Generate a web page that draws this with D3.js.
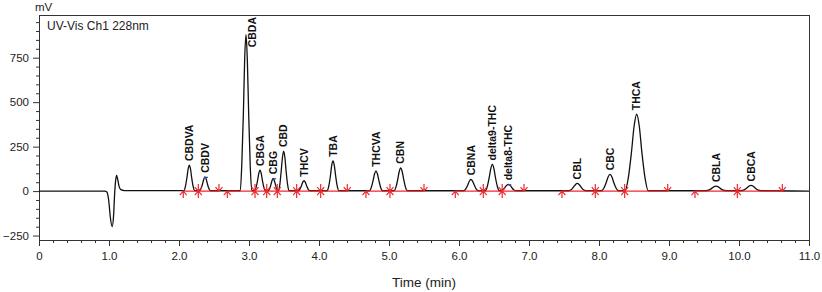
<!DOCTYPE html>
<html>
<meta charset="utf-8">
<style>
  body { margin: 0; background: #fff; }
  svg { display: block; font-family: "Liberation Sans", Arial, sans-serif; }
</style>

<body>
  <svg></svg>
</body>

<script src="https://d3js.org/d3.v7.min.js"></script>

<script>

  var margin = { top: 15, right: 13, bottom: 52, left: 39 };
  var width = 822 - margin.left - margin.right;
  var height = 292 - margin.top - margin.bottom;

  // chromatogram trace (time in min, signal in mV)
  var traceTime = [
    0.00, 0.94, 0.97, 0.995, 1.02, 1.045, 1.065, 1.08, 1.095, 1.108, 1.125, 1.145, 1.17, 1.22, 2.00,
    2.070, 2.091, 2.112, 2.130, 2.147, 2.165, 2.182, 2.203, 2.224,
    2.294, 2.315, 2.336, 2.354, 2.371, 2.389, 2.406, 2.427, 2.448,
    2.875, 2.897, 2.920, 2.938, 2.957, 2.976, 2.995, 3.017, 3.040,
    3.080, 3.101, 3.122, 3.140, 3.157, 3.175, 3.192, 3.213, 3.234,
    3.274, 3.293, 3.313, 3.329, 3.345, 3.361, 3.378, 3.397, 3.416,
    3.422, 3.441, 3.460, 3.478, 3.495, 3.513, 3.530, 3.551, 3.572,
    3.704, 3.726, 3.748, 3.767, 3.786, 3.805, 3.824, 3.846, 3.868,
    4.118, 4.140, 4.163, 4.181, 4.200, 4.219, 4.238, 4.260, 4.283,
    4.721, 4.746, 4.772, 4.793, 4.814, 4.835, 4.857, 4.882, 4.908,
    5.074, 5.099, 5.125, 5.146, 5.167, 5.188, 5.210, 5.235, 5.261,
    6.067, 6.095, 6.124, 6.147, 6.171, 6.195, 6.219, 6.247, 6.276,
    6.377, 6.404, 6.431, 6.454, 6.476, 6.499, 6.521, 6.548, 6.575,
    6.595, 6.625, 6.655, 6.680, 6.705, 6.730, 6.755, 6.785, 6.815,
    7.569, 7.602, 7.635, 7.663, 7.690, 7.718, 7.745, 7.778, 7.811,
    8.036, 8.069, 8.102, 8.130, 8.157, 8.185, 8.212, 8.245, 8.278,
    8.373, 8.418, 8.463, 8.501, 8.538, 8.576, 8.613, 8.658, 8.703,
    9.528, 9.567, 9.606, 9.639, 9.671, 9.704, 9.736, 9.775, 9.814,
    10.028, 10.067, 10.106, 10.139, 10.171, 10.204, 10.236, 10.275, 10.314,
    11.00
  ];
  var traceSignal = [
    0, 0, -5, -50, -150, -200, -140, -20, 60, 88, 65, 25, 8, 3, 3,
    2, 25, 73, 123, 146, 123, 73, 25, 2,
    2, 14, 40, 67, 80, 67, 40, 14, 2,
    2, 150, 440, 739, 880, 739, 440, 150, 2,
    2, 20, 59, 99, 118, 99, 59, 20, 2,
    2, 12, 36, 60, 72, 60, 36, 12, 2,
    2, 38, 113, 189, 225, 189, 113, 38, 2,
    2, 10, 29, 49, 58, 49, 29, 10, 2,
    2, 29, 85, 143, 170, 143, 85, 29, 2,
    2, 19, 57, 96, 114, 96, 57, 19, 2,
    2, 22, 66, 110, 131, 110, 66, 22, 2,
    2, 11, 33, 55, 66, 55, 33, 11, 2,
    2, 26, 75, 126, 150, 126, 75, 26, 2,
    2, 6, 19, 32, 38, 32, 19, 6, 2,
    2, 7, 22, 36, 43, 36, 22, 7, 2,
    2, 16, 47, 79, 94, 79, 47, 16, 2,
    2, 73, 216, 363, 432, 363, 216, 73, 2,
    2, 5, 14, 24, 28, 24, 14, 5, 2,
    2, 5, 16, 27, 32, 27, 16, 5, 2,
    0
  ];

  // named peaks
  var peakNames = ["CBDVA", "CBDV", "CBDA", "CBGA", "CBG", "CBD", "THCV", "TBA", "THCVA", "CBN",
    "CBNA", "delta9-THC", "delta8-THC", "CBL", "CBC", "THCA", "CBLA", "CBCA"];
  var peakTimes = [2.147, 2.371, 2.957, 3.157, 3.345, 3.495, 3.786, 4.200, 4.814, 5.167,
    6.171, 6.476, 6.705, 7.690, 8.157, 8.538, 9.671, 10.171];
  var peakHeights = [146, 80, 880, 118, 72, 225, 58, 170, 114, 131,
    66, 150, 38, 43, 94, 432, 28, 32];
  var apexMarked = ["CBDV", "CBG", "delta8-THC"];

  // integration marks: u = peak start, d = peak end, b = both
  var markTimes = [2.061, 2.276, 2.571, 2.690, 3.086, 3.253, 3.404, 3.681, 4.024, 4.404,
    4.671, 5.014, 5.500, 5.947, 6.347, 6.617, 6.929, 7.471, 7.947, 8.367,
    8.981, 9.371, 9.976, 10.619];
  var markTypes = ["u", "b", "d", "u", "b", "b", "b", "b", "b", "d",
    "u", "b", "d", "u", "b", "b", "d", "u", "b", "b",
    "d", "u", "b", "d"];

  var xTicks = [0, 1, 2, 3, 4, 5, 6, 7, 8, 9, 10, 11];
  var yTicks = [-250, 0, 250, 500, 750];

  var svg = d3.select("svg")
    .attr("width", 822)
    .attr("height", 292);

  var g = svg.append("g")
    .attr("transform", "translate(" + margin.left + "," + margin.top + ")");

  var x = d3.scaleLinear().domain([0, 11]).range([0, width]);
  var y = d3.scaleLinear().domain([-275, 990]).range([height, 0]);

  var ink = "#333";
  var red = "#f0282d";

  // minor ticks
  var xMinor = d3.range(0, 11.001, 0.2).map(d => +d.toFixed(1)).filter(d => xTicks.indexOf(d) < 0);
  var yMinor = d3.range(-250, 951, 50).filter(d => yTicks.indexOf(d) < 0);

  g.append("g")
    .attr("transform", "translate(0," + height + ")")
    .call(d3.axisBottom(x).tickValues(xMinor).tickSize(3).tickFormat(""))
    .call(a => a.select(".domain").remove())
    .selectAll("line").attr("stroke", ink);

  g.append("g")
    .call(d3.axisLeft(y).tickValues(yMinor).tickSize(3).tickFormat(""))
    .call(a => a.select(".domain").remove())
    .selectAll("line").attr("stroke", ink);

  // major ticks
  var xAxis = g.append("g")
    .attr("transform", "translate(0," + height + ")")
    .call(d3.axisBottom(x).tickValues(xTicks).tickSize(6).tickPadding(6)
      .tickFormat(d => d === 0 ? "0" : d3.format(".1f")(d)));
  xAxis.select(".domain").remove();
  xAxis.selectAll("line").attr("stroke", ink);
  xAxis.selectAll("text").attr("font-size", 11.5).attr("fill", "#222")
    .attr("font-family", "Liberation Sans, Arial, sans-serif");

  var yAxis = g.append("g")
    .call(d3.axisLeft(y).tickValues(yTicks).tickSize(6).tickPadding(4)
      .tickFormat(d => d < 0 ? "\u2212" + Math.abs(d) : d));
  yAxis.select(".domain").remove();
  yAxis.selectAll("line").attr("stroke", ink);
  yAxis.selectAll("text").attr("font-size", 11.5).attr("fill", "#222")
    .attr("font-family", "Liberation Sans, Arial, sans-serif");

  // frame
  g.append("rect")
    .attr("x", 0).attr("y", 0)
    .attr("width", width).attr("height", height)
    .attr("fill", "none")
    .attr("stroke", ink)
    .attr("stroke-width", 1)
    .attr("shape-rendering", "crispEdges");

  g.append("clipPath").attr("id", "clip")
    .append("rect").attr("width", width).attr("height", height);

  var plot = g.append("g").attr("clip-path", "url(#clip)");

  // trace
  var trace = traceTime.map((t, i) => [t, traceSignal[i]]);
  plot.append("path")
    .datum(trace)
    .attr("fill", "none")
    .attr("stroke", "#111")
    .attr("stroke-width", 1.3)
    .attr("d", d3.line()
      .x(d => x(d[0]))
      .y(d => y(d[1]))
      .curve(d3.curveMonotoneX));

  // integration baselines: from each start to the next end
  var segments = [];
  var segStart = null;
  markTimes.forEach((t, i) => {
    if (markTypes[i] === "u") segStart = t;
    if (markTypes[i] === "d" && segStart !== null) { segments.push([segStart, t]); segStart = null; }
  });
  plot.selectAll(".seg")
    .data(segments)
    .enter().append("line")
    .attr("x1", d => x(d[0]))
    .attr("x2", d => x(d[1]))
    .attr("y1", y(0))
    .attr("y2", y(0))
    .attr("stroke", red)
    .attr("stroke-width", 1.4);

  // start/end arrows
  var marks = plot.selectAll(".mark")
    .data(markTimes.map((t, i) => ({ t: t, type: markTypes[i] })))
    .enter().append("g")
    .attr("transform", d => "translate(" + x(d.t) + "," + y(0) + ")");

  marks.filter(d => d.type !== "u").append("path")
    .attr("d", "M0,-7V0M-3.5,-4L0,0L3.5,-4")
    .attr("fill", "none").attr("stroke", red).attr("stroke-width", 1.2);
  marks.filter(d => d.type !== "d").append("path")
    .attr("d", "M0,7V0M-3.5,4L0,0L3.5,4")
    .attr("fill", "none").attr("stroke", red).attr("stroke-width", 1.2);

  // apex marks
  peakNames.forEach((n, i) => {
    if (apexMarked.indexOf(n) < 0) return;
    plot.append("line")
      .attr("x1", x(peakTimes[i]) - 1)
      .attr("x2", x(peakTimes[i]) + 3)
      .attr("y1", y(peakHeights[i]) + 0.5)
      .attr("y2", y(peakHeights[i]) + 0.5)
      .attr("stroke", "#2a4cc8")
      .attr("stroke-width", 1.2);
  });

  // peak labels
  g.selectAll(".plabel")
    .data(peakNames)
    .enter().append("text")
    .attr("class", "plabel")
    .text(d => d)
    .attr("font-size", 10.5)
    .attr("font-weight", "bold")
    .attr("fill", "#111")
    .attr("dy", "0.35em")
    .each(function (d, i) {
      var len = this.getComputedTextLength();
      var px = x(peakTimes[i]);
      var py = y(peakHeights[i]) - 4;
      if (py - len < 2) { py = len + 2; px += 6; }
      d3.select(this).attr("transform", "translate(" + px + "," + py + ") rotate(-90)");
    });

  // texts
  g.append("text")
    .attr("x", 8).attr("y", 14.5)
    .attr("font-size", 12)
    .attr("fill", "#222")
    .text("UV-Vis Ch1 228nm");

  svg.append("text")
    .attr("x", 35).attr("y", 10.5)
    .attr("font-size", 11.5)
    .attr("fill", "#222")
    .text("mV");

  svg.append("text")
    .attr("x", margin.left + width / 2).attr("y", 287)
    .attr("text-anchor", "middle")
    .attr("font-size", 13.5)
    .attr("fill", "#222")
    .text("Time (min)");

</script>

</html>
